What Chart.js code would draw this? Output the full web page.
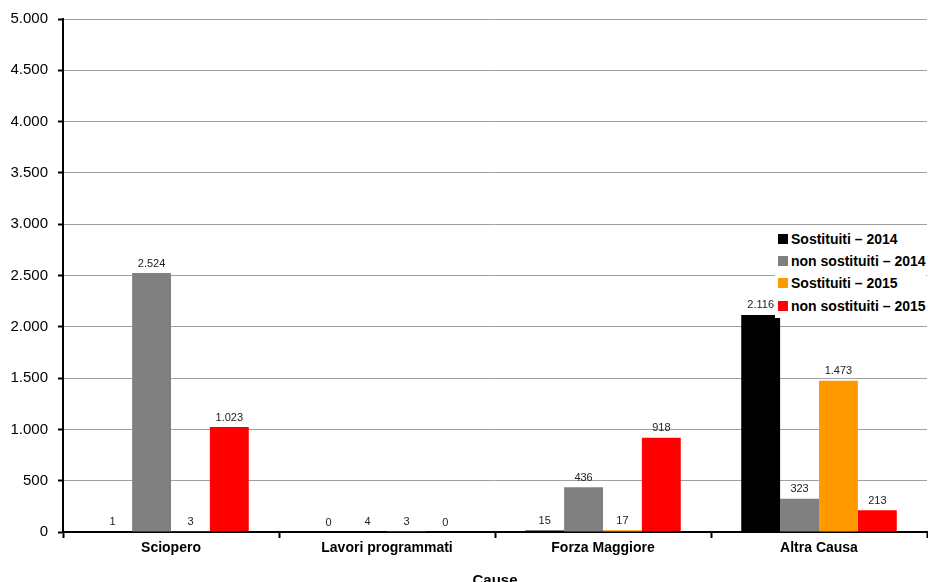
<!DOCTYPE html>
<html>
<head>
<meta charset="utf-8">
<script src="https://cdn.jsdelivr.net/npm/chart.js@4/dist/chart.umd.min.js"></script>
<style>
  html, body { margin: 0; padding: 0; background: #fff; }
  #wrap { position: relative; width: 928px; height: 582px; overflow: hidden; }
  #legend { position: absolute; left: 775px; top: 226px; padding: 2px 0 1px 3px; background: #fff; font: bold 14px "Liberation Sans", Arial, sans-serif; color: #000; }
  #legend .row { display: flex; align-items: center; height: 22.2px; white-space: nowrap; }
  #legend .box { width: 10px; height: 10px; margin-right: 3px; flex: none; }
</style>
</head>
<body>
<div id="wrap">
  <canvas id="c" width="928" height="582"></canvas>
  <div id="legend"></div>
</div>
<script>
// Causes of cancelled trips, split by replaced / not replaced, 2014 vs 2015
const categories = ["Sciopero", "Lavori programmati", "Forza Maggiore", "Altra Causa"];
const seriesNames = ["Sostituiti \u2013 2014", "non sostituiti \u2013 2014", "Sostituiti \u2013 2015", "non sostituiti \u2013 2015"];
const sostituiti2014 = [1, 0, 15, 2116];
const nonSostituiti2014 = [2524, 4, 436, 323];
const sostituiti2015 = [3, 3, 17, 1473];
const nonSostituiti2015 = [1023, 0, 918, 213];
const seriesColors = ["#000000", "#808080", "#FF9900", "#FF0000"];
const yMin = 0, yMax = 5000, yStep = 500;

const fmt = v => v.toLocaleString("it-IT");
const FONT = "'Liberation Sans', Arial, sans-serif";

const seriesValues = [sostituiti2014, nonSostituiti2014, sostituiti2015, nonSostituiti2015];

// Value labels above each bar
const valueLabels = {
  id: "valueLabels",
  afterDatasetsDraw(chart) {
    const ctx = chart.ctx;
    ctx.save();
    ctx.font = "11px " + FONT;
    ctx.fillStyle = "#222";
    ctx.textAlign = "center";
    ctx.textBaseline = "bottom";
    chart.data.datasets.forEach((ds, i) => {
      chart.getDatasetMeta(i).data.forEach((bar, j) => {
        ctx.fillText(fmt(ds.data[j]), bar.x, bar.y - 4);
      });
    });
    ctx.restore();
  }
};

new Chart(document.getElementById("c"), {
  type: "bar",
  data: {
    labels: categories,
    datasets: seriesNames.map((name, i) => ({
      label: name,
      data: seriesValues[i],
      backgroundColor: seriesColors[i],
      borderWidth: 0,
      barPercentage: 1,
      categoryPercentage: 0.72
    }))
  },
  options: {
    responsive: false,
    animation: false,
    devicePixelRatio: 1,
    layout: { padding: { top: 19, right: 1, left: 0, bottom: 0 } },
    plugins: { legend: { display: false }, tooltip: { enabled: false } },
    scales: {
      x: {
        afterFit(scale) { scale.height = 50; },
        grid: { drawOnChartArea: false, drawTicks: true, tickLength: 6, tickColor: "#000", tickWidth: 2, offset: true },
        border: { color: "#000", width: 2 },
        ticks: { color: "#000", font: { family: FONT, size: 14, weight: "bold" }, padding: 2, maxRotation: 0 },
        title: { display: true, text: "Cause", color: "#000", font: { family: FONT, size: 15, weight: "bold" }, padding: { top: 0, bottom: -8 } }
      },
      y: {
        min: yMin, max: yMax,
        afterFit(scale) { scale.width = 63; },
        grid: { color: "#a0a0a0", borderDash: [3, 1], lineWidth: 1, tickLength: 5, tickColor: "#000", tickWidth: 2, tickBorderDash: [] },
        border: { color: "#000", width: 2 },
        ticks: { stepSize: yStep, color: "#000", padding: 10, font: { family: FONT, size: 15 }, callback: v => fmt(v) }
      }
    }
  },
  plugins: [valueLabels]
});

// Legend in the upper-right of the plot
const legend = document.getElementById("legend");
seriesNames.forEach((name, i) => {
  const row = document.createElement("div");
  row.className = "row";
  const box = document.createElement("span");
  box.className = "box";
  box.style.background = seriesColors[i];
  const txt = document.createElement("span");
  txt.textContent = name;
  row.appendChild(box);
  row.appendChild(txt);
  legend.appendChild(row);
});
</script>
</body>
</html>
